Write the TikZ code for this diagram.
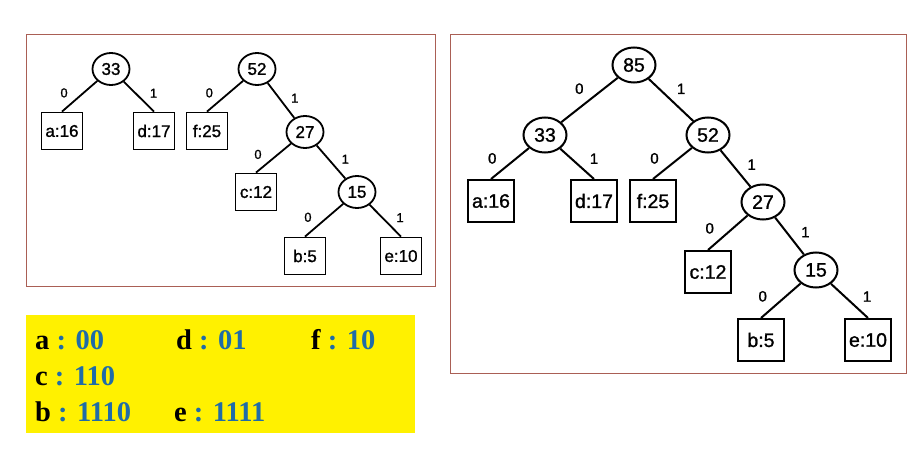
\documentclass[tikz,border=0pt]{standalone}
\usepackage{fontspec}
\setmainfont{Liberation Sans}
\newfontfamily\treefont[FakeBold=1.2]{Liberation Sans}
\newfontfamily\codefont{Liberation Serif}
\usetikzlibrary{shapes.geometric}
\definecolor{framec}{RGB}{170,95,85}
\definecolor{hlyellow}{RGB}{255,241,0}
\definecolor{codeblue}{RGB}{31,108,168}
\tikzset{
  rin/.style={ellipse, draw, line width=2pt, minimum width=43pt, minimum height=35pt, inner sep=0pt, font=\treefont\fontsize{19.5}{19.5}\selectfont},
  rleaf/.style={rectangle, draw, line width=2pt, minimum width=46pt, minimum height=42pt, inner sep=0pt, font=\treefont\fontsize{19.5}{19.5}\selectfont},
  lin/.style={ellipse, draw, line width=1.8pt, minimum width=37pt, minimum height=32pt, inner sep=0pt, font=\treefont\fontsize{17}{17}\selectfont},
  lleaf/.style={rectangle, draw, line width=1.8pt, minimum width=41pt, minimum height=37pt, inner sep=0pt, font=\treefont\fontsize{17}{17}\selectfont},
  redge/.style={line width=2pt},
  ledge/.style={line width=1.8pt},
  rl/.style={inner sep=5pt, font=\treefont\fontsize{15}{15}\selectfont},
  ll/.style={inner sep=4pt, font=\treefont\fontsize{13}{13}\selectfont},
  lz/.style={anchor=south east},
  lo/.style={anchor=south west},
  framebox/.style={draw=framec, line width=0.9pt},
  codeentry/.style={anchor=base west, inner sep=0pt, font=\codefont\bfseries\fontsize{28.5}{28.5}\selectfont}
}
\begin{document}
\begin{tikzpicture}[x=1pt, y=-1pt]
\useasboundingbox (0,0) rectangle (922,460);
% frames
\draw[framebox] (26,34) rectangle (435,286);
\draw[framebox] (450,34) rectangle (906,373);
\fill[hlyellow] (26,315) rectangle (415,433);

% ---------- left forest ----------
\node[lin] (L33) at (111,69) {33};
\node[lleaf] (La) at (62,131) {a:16};
\node[lleaf] (Ld) at (154,131) {d:17};
\node[lin] (L52) at (257,69) {52};
\node[lleaf] (Lf) at (207,131) {f:25};
\node[lin] (L27) at (305,132) {27};
\node[lleaf] (Lc) at (256,192) {c:12};
\node[lin] (L15) at (357,192) {15};
\node[lleaf] (Lb) at (305,256) {b:5};
\node[lleaf] (Le) at (401,256) {e:10};

\draw[ledge] (L33) -- node[ll, lz, pos=0.7] {0} (La.north);
\draw[ledge] (L33) -- node[ll, lo, pos=0.7] {1} (Ld.north);
\draw[ledge] (L52) -- node[ll, lz, pos=0.7] {0} (Lf.north);
\draw[ledge] (L52) -- node[ll, lo, pos=0.7] {1} (L27);
\draw[ledge] (L27) -- node[ll, lz, pos=0.7] {0} (Lc.north);
\draw[ledge] (L27) -- node[ll, lo, pos=0.7] {1} (L15);
\draw[ledge] (L15) -- node[ll, lz, pos=0.7] {0} (Lb.north);
\draw[ledge] (L15) -- node[ll, lo, pos=0.7] {1} (Le.north);

% ---------- right tree ----------
\node[rin] (R85) at (634,65) {85};
\node[rin] (R33) at (545,135) {33};
\node[rin] (R52) at (708,135) {52};
\node[rleaf] (Ra) at (491,201) {a:16};
\node[rleaf] (Rd) at (594,201) {d:17};
\node[rleaf] (Rf) at (653,201) {f:25};
\node[rin] (R27) at (763,202) {27};
\node[rleaf] (Rc) at (708,272) {c:12};
\node[rin] (R15) at (816,270) {15};
\node[rleaf] (Rb) at (761,340) {b:5};
\node[rleaf] (Re) at (868,340) {e:10};

\draw[redge] (R85) -- node[rl, lz, pos=0.5] {0} (R33);
\draw[redge] (R85) -- node[rl, lo, pos=0.5] {1} (R52);
\draw[redge] (R33) -- node[rl, lz, pos=0.7] {0} (Ra.north);
\draw[redge] (R33) -- node[rl, lo, pos=0.7] {1} (Rd.north);
\draw[redge] (R52) -- node[rl, lz, pos=0.7] {0} (Rf.north);
\draw[redge] (R52) -- node[rl, lo, pos=0.7] {1} (R27);
\draw[redge] (R27) -- node[rl, lz, pos=0.7] {0} (Rc.north);
\draw[redge] (R27) -- node[rl, lo, pos=0.7] {1} (R15);
\draw[redge] (R15) -- node[rl, lz, pos=0.7] {0} (Rb.north);
\draw[redge] (R15) -- node[rl, lo, pos=0.7] {1} (Re.north);

% ---------- code table ----------
\node[codeentry] (ca) at (35,349) {a \textcolor{codeblue}{: 00}};
\node[codeentry] (cd) at (176,349) {d \textcolor{codeblue}{: 01}};
\node[codeentry] (cf) at (311,349) {f \textcolor{codeblue}{: 10}};
\node[codeentry] (cc) at (35,385) {c \textcolor{codeblue}{: 110}};
\node[codeentry] (cb) at (35,421) {b \textcolor{codeblue}{: 1110}};
\node[codeentry] (ce) at (174,421) {e \textcolor{codeblue}{: 1111}};
\end{tikzpicture}
\end{document}
